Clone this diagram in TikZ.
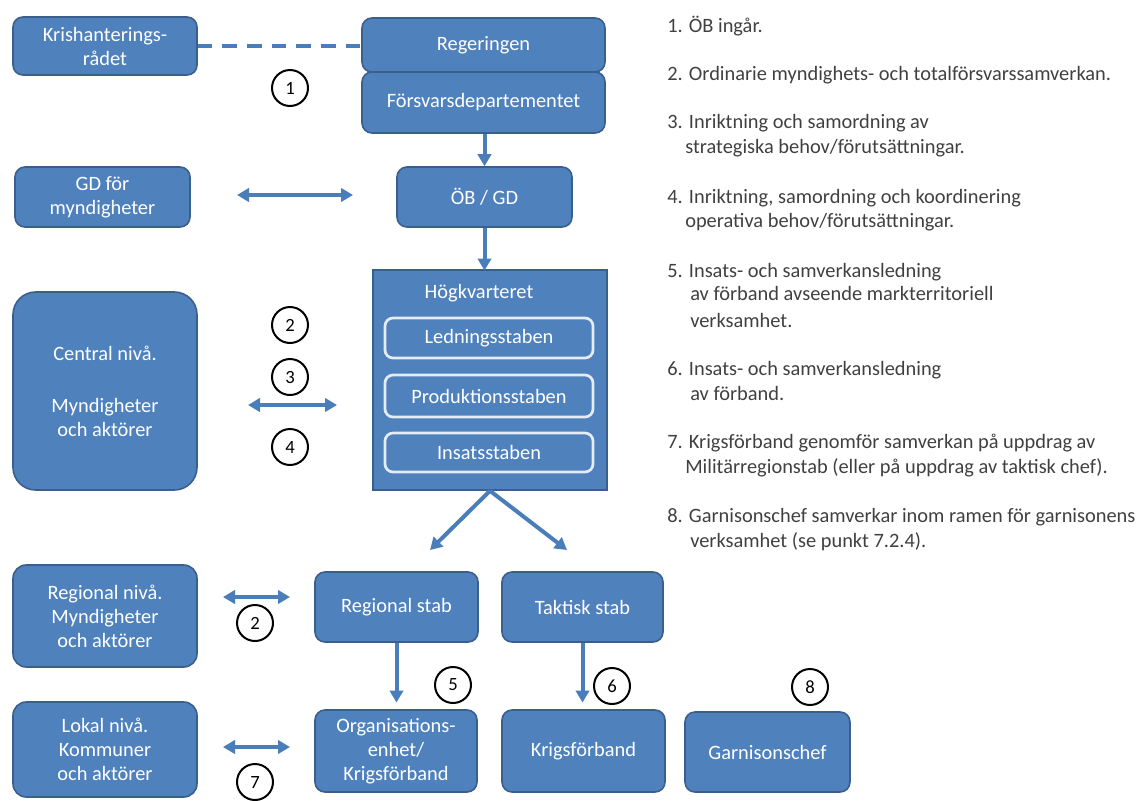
\documentclass[tikz,border=0pt]{standalone}
\usepackage{fontspec}
\setmainfont{Carlito}
\usetikzlibrary{arrows.meta}

\definecolor{boxblue}{HTML}{4F81BD}
\definecolor{boxline}{HTML}{3A5F8C}
\definecolor{arrowblue}{HTML}{4A7EBB}
\definecolor{legendgray}{HTML}{404040}

\tikzset{
  orgbox/.style={rounded corners=7.5pt, fill=boxblue, draw=boxline, line width=1.2pt,
    text=white, align=center, inner sep=0pt, font=\fontsize{15.3}{18}\selectfont},
  staffbox/.style={orgbox, rounded corners=6pt, draw=white!85!boxblue, line width=2pt,
    minimum width=156pt},
  note/.style={circle, draw=black, line width=1.5pt, fill=white, minimum size=27pt,
    inner sep=0pt, font=\fontsize{14}{16}\selectfont},
  link/.style={arrowblue, line width=3pt, -{Triangle[length=9pt,width=10pt]}},
  twoway/.style={arrowblue, line width=3pt,
    {Triangle[length=9pt,width=10pt]}-{Triangle[length=9pt,width=10pt]}},
  legend/.style={anchor=base west, text=legendgray, inner sep=0pt,
    font=\fontsize{15.3}{18}\selectfont}
}

\begin{document}
\begin{tikzpicture}[x=0.75pt, y=-0.75pt]

  \useasboundingbox (0,0) rectangle (1142,800);

  % Top row:
  \node[orgbox, minimum width=138pt,    minimum height=43.5pt]  (kris)   at (105, 46)    {Krishanterings-\\rådet};
  \node[orgbox, minimum width=182.25pt, minimum height=40.5pt]  (reg)    at (483.5, 45)  {Regeringen};
  \node[orgbox, minimum width=182.25pt, minimum height=45.75pt] (fdep)   at (483.5, 102.5) {Försvarsdepartementet};
  \node[orgbox, minimum width=131.25pt, minimum height=45pt]    (gdmynd) at (102.5, 197) {GD för\\myndigheter};
  \node[orgbox, minimum width=131.25pt, minimum height=45pt]    (obgd)   at (484.5, 197) {ÖB / GD};

  % Central level:
  \node[orgbox, rounded corners=17pt, minimum width=138pt, minimum height=148.5pt] (central) at (105, 391)
    {Central nivå.\\[21pt]Myndigheter\\och aktörer};
  \node[orgbox, rounded corners=0pt, minimum width=175.5pt, minimum height=165pt] (hkv) at (490, 380) {};
  \node[text=white, inner sep=0pt, font=\fontsize{15.3}{18}\selectfont] (hkvtitle) at (479, 293) {Högkvarteret};
  \node[staffbox, minimum height=30pt]    (ledn)   at (489, 338)   {Ledningsstaben};
  \node[staffbox, minimum height=31.5pt]  (prod)   at (489, 396)   {Produktionsstaben};
  \node[staffbox, minimum height=29.25pt] (insats) at (489, 452.5) {Insatsstaben};

  % Regional and local level:
  \node[orgbox, rounded corners=10pt, minimum width=138pt, minimum height=76.5pt]  (regniva) at (105, 616)
    {Regional nivå.\\Myndigheter\\och aktörer};
  \node[orgbox, rounded corners=10pt, minimum width=138pt, minimum height=71.25pt] (lokal)   at (105, 749.5)
    {Lokal nivå.\\Kommuner\\och aktörer};
  \node[orgbox, minimum width=122.25pt, minimum height=52.5pt] (regstab) at (396.5, 607) {Regional stab};
  \node[orgbox, minimum width=120.75pt, minimum height=52.5pt] (takt)    at (582.5, 607) {Taktisk stab};
  \node[orgbox, minimum width=121.5pt,  minimum height=61.5pt] (org)     at (396, 751)   {Organisations-\\enhet/\\Krigsförband};
  \node[orgbox, minimum width=122.25pt, minimum height=61.5pt] (krigs)   at (583.5, 751) {Krigsförband};
  \node[orgbox, minimum width=123.75pt, minimum height=60pt]   (garn)    at (767.5, 752) {Garnisonschef};

  % Free arrow ends:
  \coordinate (gdl) at (237, 195);  \coordinate (gdr) at (353, 195);
  \coordinate (cel) at (248, 405);  \coordinate (cer) at (337, 405);
  \coordinate (rnl) at (223, 597);  \coordinate (rnr) at (290, 597);
  \coordinate (lnl) at (223, 747);  \coordinate (lnr) at (290, 747);
  \coordinate (hkvl) at (430, 550); \coordinate (hkvr) at (567, 550);

  % Connectors:
  \draw[arrowblue, line width=3pt, dash pattern=on 11pt off 7.5pt] (kris.east) -- (kris.east -| reg.west);
  \draw[link] (obgd.north |- fdep.south) -- (obgd.north);
  \draw[link, shorten >=-1pt] (obgd.south) -- (obgd.south |- hkv.north);
  \draw[twoway] (gdl) -- (gdr);
  \draw[twoway] (cel) -- (cer);
  \draw[twoway] (rnl) -- (rnr);
  \draw[twoway] (lnl) -- (lnr);
  \draw[link] (hkv.south) -- (hkvl);
  \draw[link] (hkv.south) -- (hkvr);
  \draw[link, shorten >=5pt] (regstab.south) -- (regstab.south |- org.north);
  \draw[link, shorten >=5pt] (takt.south) -- (takt.south |- krigs.north);

  % Numbered marks:
  \node[note] (n1)  at (290, 88)  {1};
  \node[note] (n2)  at (290, 325) {2};
  \node[note] (n3)  at (290, 377) {3};
  \node[note] (n4)  at (290, 447) {4};
  \node[note] (n2b) at (255, 623) {2};
  \node[note] (n7)  at (255, 782) {7};
  \node[note] (n5)  at (453, 685) {5};
  \node[note] (n6)  at (612, 686) {6};
  \node[note] (n8)  at (810, 687) {8};

  % Legend:
  \node[legend] (l1)  at (667, 32)  {1. ÖB ingår.};
  \node[legend] (l2)  at (667, 80)  {2. Ordinarie myndighets- och totalförsvarssamverkan.};
  \node[legend] (l3)  at (667, 128) {3. Inriktning och samordning av};
  \node[legend] (l3b) at (685, 153) {strategiska behov/förutsättningar.};
  \node[legend] (l4)  at (667, 203) {4. Inriktning, samordning och koordinering};
  \node[legend] (l4b) at (685, 227) {operativa behov/förutsättningar.};
  \node[legend] (l5)  at (667, 277) {5. Insats- och samverkansledning};
  \node[legend] (l5b) at (690, 300) {av förband avseende markterritoriell};
  \node[legend] (l5c) at (690, 327) {verksamhet.};
  \node[legend] (l6)  at (667, 375) {6. Insats- och samverkansledning};
  \node[legend] (l6b) at (690, 400) {av förband.};
  \node[legend] (l7)  at (667, 448) {7. Krigsförband genomför samverkan på uppdrag av};
  \node[legend] (l7b) at (685, 473) {Militärregionstab (eller på uppdrag av taktisk chef).};
  \node[legend] (l8)  at (667, 522) {8. Garnisonschef samverkar inom ramen för garnisonens};
  \node[legend] (l8b) at (690, 547) {verksamhet (se punkt 7.2.4).};

\end{tikzpicture}
\end{document}
